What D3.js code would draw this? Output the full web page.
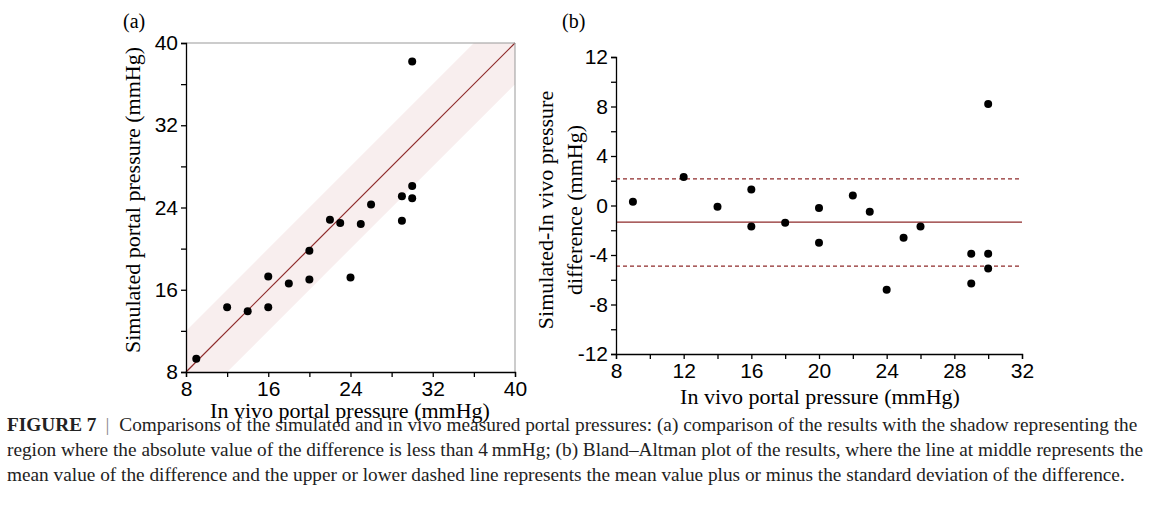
<!DOCTYPE html>
<html><head><meta charset="utf-8">
<script src="https://cdn.jsdelivr.net/npm/d3@7"></script>
<style>body{margin:0;background:#fff}</style>
</head><body>
<svg id="fig" width="1167" height="520"></svg>
<script>
// in vivo portal pressure (mmHg)
var invivo = [9, 12, 14, 16, 16, 18, 20, 20, 22, 23, 24, 25, 26, 29, 29, 30, 30, 30];
// simulated portal pressure (mmHg)
var simulated = [9.3, 14.3, 13.9, 17.3, 14.3, 16.6, 19.8, 17.0, 22.8, 22.5, 17.2, 22.4, 24.3, 25.1, 22.7, 38.2, 26.1, 24.9];
// simulated - in vivo difference
var difference = [0.3, 2.3, -0.1, 1.3, -1.7, -1.4, -0.2, -3.0, 0.8, -0.5, -6.8, -2.6, -1.7, -3.9, -6.3, 8.2, -3.9, -5.1];
var meanDiff = -1.35, upperDiff = 2.15, lowerDiff = -4.9;
var bandHalf = 4;
var ticksA = [8, 16, 24, 32, 40];
var ticksBx = [8, 12, 16, 20, 24, 28, 32];
var ticksBy = [-12, -8, -4, 0, 4, 8, 12];

var svg = d3.select("#fig");
var red = "#8e2a2a";
var tickFont = "'Liberation Sans', Arial, sans-serif";
var serif = "'Liberation Serif', 'Times New Roman', serif";

function styleAxis(g) {
  g.attr("font-family", tickFont).attr("font-size", 21);
  g.selectAll("path.domain").attr("stroke", "#000").attr("stroke-width", 1.3);
  g.selectAll(".tick line").attr("stroke", "#000").attr("stroke-width", 1.3);
  g.selectAll(".tick text").attr("fill", "#000");
}

// ---------- panel (a)
var ax = d3.scaleLinear().domain([8, 40]).range([186, 515]);
var ay = d3.scaleLinear().domain([8, 40]).range([372, 43]);
var ga = svg.append("g");
ga.append("clipPath").attr("id", "clipA").append("rect")
  .attr("x", 186).attr("y", 43).attr("width", 329).attr("height", 329);
var band = d3.area().x(d => ax(d)).y0(d => ay(d - bandHalf)).y1(d => ay(d + bandHalf));
ga.append("path").datum([4, 44]).attr("d", band).attr("fill", "#f8eeee").attr("clip-path", "url(#clipA)");
ga.append("line").attr("x1", ax(8)).attr("y1", ay(8)).attr("x2", ax(40)).attr("y2", ay(40))
  .attr("stroke", red).attr("stroke-width", 1.2);
ga.append("path").attr("d", "M186,43H515V372").attr("fill", "none").attr("stroke", "#999").attr("stroke-width", 1);
var axA = ga.append("g").attr("transform", "translate(0,372)")
  .call(d3.axisBottom(ax).tickValues(d3.range(8, 41, 4)).tickSize(5).tickPadding(4)
    .tickFormat(d => ticksA.includes(d) ? d : ""));
styleAxis(axA);
var ayA = ga.append("g").attr("transform", "translate(186,0)")
  .call(d3.axisLeft(ay).tickValues(d3.range(8, 41, 4)).tickSize(5).tickPadding(3)
    .tickFormat(d => ticksA.includes(d) ? d : ""));
styleAxis(ayA);
ga.selectAll("circle").data(invivo).enter().append("circle")
  .attr("cx", d => ax(d)).attr("cy", (d, i) => ay(simulated[i])).attr("r", 4).attr("fill", "#000");
ga.append("text").attr("x", 350).attr("y", 418).attr("text-anchor", "middle")
  .attr("font-family", serif).attr("font-size", 22).text("In vivo portal pressure (mmHg)");
ga.append("text").attr("transform", "translate(140,200) rotate(-90)").attr("text-anchor", "middle")
  .attr("font-family", serif).attr("font-size", 22).text("Simulated portal pressure (mmHg)");
ga.append("text").attr("x", 123).attr("y", 28).attr("font-family", serif).attr("font-size", 20).text("(a)");

// ---------- panel (b)
var bx = d3.scaleLinear().domain([8, 32]).range([616, 1022]);
var by = d3.scaleLinear().domain([-12, 12]).range([354, 57]);
var gb = svg.append("g");
[[upperDiff, "4,3"], [meanDiff, null], [lowerDiff, "4,3"]].forEach(function (l) {
  gb.append("line").attr("x1", bx(8)).attr("x2", bx(32)).attr("y1", by(l[0])).attr("y2", by(l[0]))
    .attr("stroke", red).attr("stroke-width", 1.2).attr("stroke-dasharray", l[1]);
});
var axB = gb.append("g").attr("transform", "translate(0,354)")
  .call(d3.axisBottom(bx).tickValues(d3.range(8, 33, 2)).tickSize(5).tickPadding(4)
    .tickFormat(d => ticksBx.includes(d) ? d : ""));
styleAxis(axB);
var ayB = gb.append("g").attr("transform", "translate(616,0)")
  .call(d3.axisLeft(by).tickValues(d3.range(-12, 13, 2)).tickSize(5).tickPadding(3)
    .tickFormat(d => ticksBy.includes(d) ? d : ""));
styleAxis(ayB);
gb.selectAll("circle").data(invivo).enter().append("circle")
  .attr("cx", d => bx(d)).attr("cy", (d, i) => by(difference[i])).attr("r", 4).attr("fill", "#000");
gb.append("text").attr("x", 820).attr("y", 404).attr("text-anchor", "middle")
  .attr("font-family", serif).attr("font-size", 22).text("In vivo portal pressure (mmHg)");
var yl = gb.append("text").attr("transform", "translate(553,210) rotate(-90)").attr("text-anchor", "middle")
  .attr("font-family", serif).attr("font-size", 22);
yl.append("tspan").attr("x", 0).attr("dy", 0).text("Simulated-In vivo pressure");
yl.append("tspan").attr("x", 0).attr("dy", 29).text("difference (mmHg)");
gb.append("text").attr("x", 562).attr("y", 28).attr("font-family", serif).attr("font-size", 20).text("(b)");

// ---------- caption
var cap = svg.append("g").attr("font-family", serif).attr("font-size", 19.3).attr("fill", "#222");
var c1 = cap.append("text").attr("x", 7).attr("y", 431);
c1.append("tspan").attr("font-weight", "bold").text("FIGURE 7");
c1.append("tspan").attr("dx", 9).attr("fill", "#888").text("|");
c1.append("tspan").attr("dx", 10).text("Comparisons of the simulated and in vivo measured portal pressures: (a) comparison of the results with the shadow representing the");
cap.append("text").attr("x", 7).attr("y", 456).text("region where the absolute value of the difference is less than 4\u2009mmHg; (b) Bland\u2013Altman plot of the results, where the line at middle represents the");
cap.append("text").attr("x", 7).attr("y", 481).text("mean value of the difference and the upper or lower dashed line represents the mean value plus or minus the standard deviation of the difference.");
</script>
</body></html>
